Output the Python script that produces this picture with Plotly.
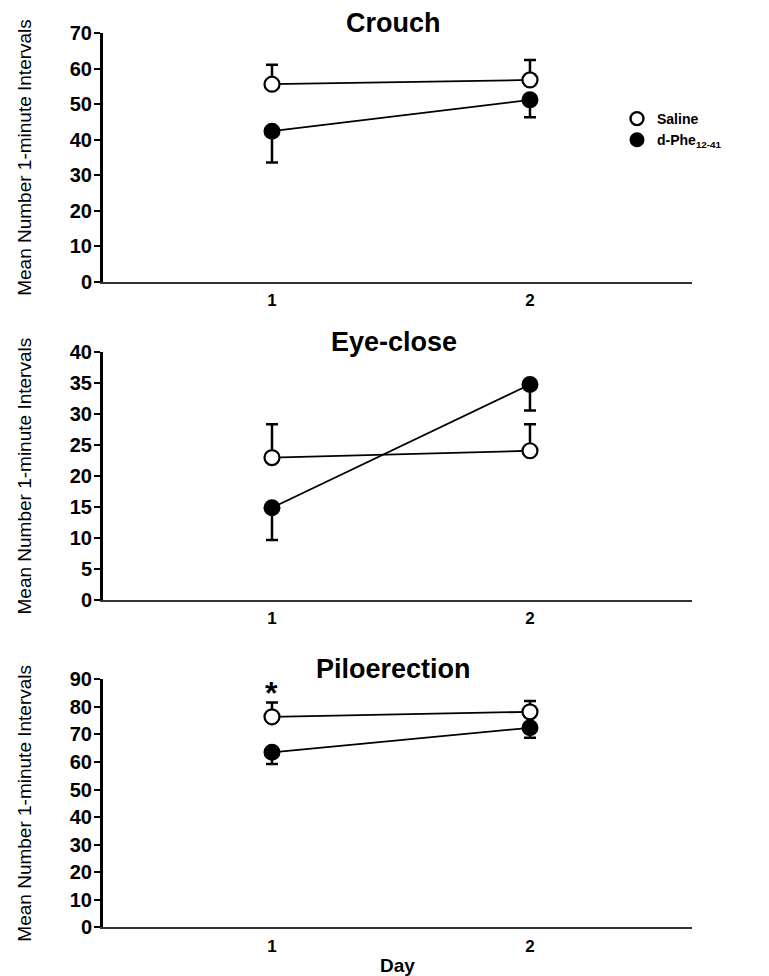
import plotly.graph_objects as go

days = [1, 2]
panels = ["Crouch", "Eye-close", "Piloerection"]
series_names = ["Saline", "d-Phe<sub>12-41</sub>"]

crouch_saline = [55.6, 56.8]
crouch_saline_err = [5.5, 5.6]
crouch_dphe = [42.4, 51.2]
crouch_dphe_err = [8.8, 4.9]

eye_saline = [23.0, 24.1]
eye_saline_err = [5.4, 4.3]
eye_dphe = [14.9, 34.8]
eye_dphe_err = [5.2, 4.2]

pilo_saline = [76.4, 78.2]
pilo_saline_err = [5.2, 3.9]
pilo_dphe = [63.5, 72.4]
pilo_dphe_err = [4.2, 3.6]

y_ranges = [[0, 70], [0, 40], [0, 90]]
y_dticks = [10, 5, 10]

data = [
    (crouch_saline, crouch_saline_err, crouch_dphe, crouch_dphe_err),
    (eye_saline, eye_saline_err, eye_dphe, eye_dphe_err),
    (pilo_saline, pilo_saline_err, pilo_dphe, pilo_dphe_err),
]

H = 976.0
W = 769.0
x_dom = [103 / W, 692 / W]
y_doms = [
    [1 - 282 / H, 1 - 33 / H],
    [1 - 600 / H, 1 - 352.3 / H],
    [1 - 927.3 / H, 1 - 679.3 / H],
]

FONT = "Liberation Sans, Arial, sans-serif"
NARROW = "Liberation Sans Narrow, Arial Narrow, Liberation Sans, sans-serif"

fig = go.Figure()

for i, (s, se, d, de) in enumerate(data):
    ax = "" if i == 0 else str(i + 1)
    fig.add_trace(go.Scatter(
        x=days, y=d, mode="lines+markers", xaxis="x" + ax, yaxis="y" + ax,
        line=dict(color="black", width=1.8),
        marker=dict(symbol="circle", size=15, color="black", line=dict(color="black", width=2)),
        error_y=dict(type="data", symmetric=False, array=[0, 0], arrayminus=de,
                     color="black", thickness=2.5, width=6),
        showlegend=False, cliponaxis=False,
    ))
    fig.add_trace(go.Scatter(
        x=days, y=s, mode="lines+markers", xaxis="x" + ax, yaxis="y" + ax,
        line=dict(color="black", width=1.8),
        marker=dict(symbol="circle", size=15, color="white", line=dict(color="black", width=2.2)),
        error_y=dict(type="data", symmetric=False, array=se, arrayminus=[0, 0],
                     color="black", thickness=2.5, width=6),
        showlegend=False, cliponaxis=False,
    ))

# legend-only traces
fig.add_trace(go.Scatter(x=[None], y=[None], mode="markers", name=series_names[0],
                         marker=dict(symbol="circle", size=13, color="white",
                                     line=dict(color="black", width=2.4))))
fig.add_trace(go.Scatter(x=[None], y=[None], mode="markers", name=series_names[1],
                         marker=dict(symbol="circle", size=13, color="black",
                                     line=dict(color="black", width=2))))

layout = dict(
    width=769, height=976,
    margin=dict(l=0, r=0, t=0, b=0, autoexpand=False),
    paper_bgcolor="white", plot_bgcolor="white",
    font=dict(family=FONT, color="black"),
    showlegend=True,
    legend=dict(x=617 / W, y=1 - 103 / H, xanchor="left", yanchor="top",
                font=dict(family=FONT, size=14, weight="bold"),
                itemwidth=30, tracegroupgap=0, bgcolor="rgba(0,0,0,0)"),
)

annotations = []
for i in range(3):
    ax = "" if i == 0 else str(i + 1)
    xa = dict(
        domain=x_dom, anchor="y" + ax, range=[0.345, 2.628],
        tickvals=days, ticktext=["1", "2"], ticks="",
        showline=True, linecolor="#333", linewidth=2, showgrid=False, zeroline=False,
        tickfont=dict(family=FONT, size=17, weight="bold"),
        ticklabelstandoff=2, automargin=False,
    )
    if i == 2:
        xa["title"] = dict(text="Day", font=dict(family=FONT, size=19, weight="bold"), standoff=4)
    layout["xaxis" + ax] = xa
    layout["yaxis" + ax] = dict(
        domain=y_doms[i], anchor="x" + ax, range=y_ranges[i], dtick=y_dticks[i],
        ticks="outside", ticklen=6, tickwidth=2, tickcolor="black",
        showline=True, linecolor="black", linewidth=3, showgrid=False, zeroline=False,
        tickfont=dict(family=FONT, size=20, weight="bold"), automargin=False,
        ticklabelstandoff=-2,
        title=dict(text="Mean Number 1-minute Intervals",
                   font=dict(family=NARROW, size=19), standoff=34),
    )
    annotations.append(dict(
        text=panels[i], x=0.5 * (x_dom[0] + x_dom[1]) - 0.005, xref="paper",
        y=y_doms[i][1], yref="paper", yanchor="bottom", showarrow=False, yshift=-7,
        font=dict(family=FONT, size=27, weight="bold"),
    ))

annotations.append(dict(
    text="*", x=days[0], y=pilo_saline[0] + pilo_saline_err[0], xref="x3", yref="y3",
    yanchor="bottom", showarrow=False, yshift=-11,
    font=dict(family=FONT, size=32, weight="bold"),
))
layout["annotations"] = annotations

fig.update_layout(**layout)
fig.write_html("out.html")
